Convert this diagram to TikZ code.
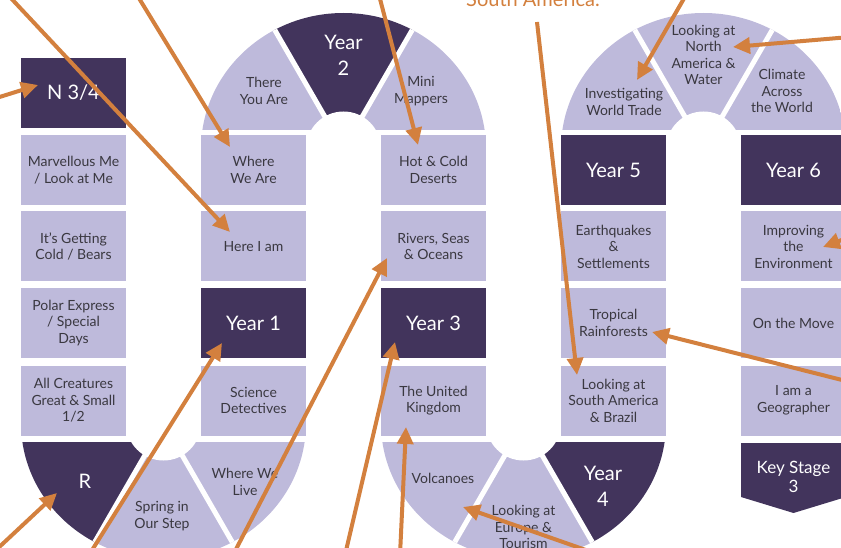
\documentclass[tikz,border=0pt]{standalone}
\usepackage{fontspec}
\setmainfont{Lato}
\usetikzlibrary{arrows.meta}
\definecolor{lilac}{RGB}{190,186,219}
\definecolor{plum}{RGB}{66,52,92}
\definecolor{rust}{RGB}{211,128,62}
\definecolor{ink}{RGB}{58,56,64}
\tikzset{
  tile/.style={fill=lilac, text=ink, minimum width=105pt, minimum height=70pt, inner sep=0pt, align=center, font=\fontsize{14}{16.5}\selectfont},
  yeartile/.style={tile, fill=plum, text=white, font=\fontsize{20}{26}\selectfont},
  seclbl/.style={text=ink, align=center, inner sep=0pt, font=\fontsize{14}{16.5}\selectfont},
  yearlbl/.style={seclbl, text=white, font=\fontsize{20}{26}\selectfont},
  arr/.style={draw=rust, line width=4pt, -{Triangle[length=17pt,width=16pt]}},
  gap/.style={draw=white, line width=5pt}
}

\begin{document}
\begin{tikzpicture}[x=1pt,y=1pt,yscale=-1,xscale=1]
\useasboundingbox (0,0) rectangle (841,548);
\clip (0,0) rectangle (841,548);

% hole centres of the four bends
\coordinate (topA) at (343.5,149);
\coordinate (topB) at (703.5,149);
\coordinate (botA) at (163.5,423);
\coordinate (botB) at (523.5,423);

%Bend Year 2
\begin{scope}
\clip (200,0) rectangle (487,129.5);
\clip (topA) ellipse [x radius=142.5, y radius=136];
\fill[lilac] (topA) -- +(-180:300) -- +(-120:300) -- cycle;
\fill[plum]  (topA) -- +(-120:300) -- +(-60:300) -- cycle;
\fill[lilac] (topA) -- +(-60:300) -- +(0:300) -- cycle;
\draw[gap] (topA) -- +(-120:300);
\draw[gap] (topA) -- +(-60:300);
\fill[white] (topA) circle [radius=37.5];
\end{scope}

%Bend Year 5 / Year 6
\begin{scope}
\clip (560,0) rectangle (847,129.5);
\clip (topB) ellipse [x radius=142.5, y radius=136];
\fill[lilac] (topB) -- +(-180:300) -- +(-90:300) -- +(0:300) -- cycle;
\draw[gap] (topB) -- +(-120:300);
\draw[gap] (topB) -- +(-60:300);
\fill[white] (topB) circle [radius=37.5];
\end{scope}

%Bend R
\begin{scope}
\clip (20,442) rectangle (307,560);
\clip (botA) ellipse [x radius=142.5, y radius=136];
\fill[plum]  (botA) -- +(180:300) -- +(120:300) -- cycle;
\fill[lilac] (botA) -- +(120:300) -- +(60:300) -- +(0:300) -- cycle;
\draw[gap] (botA) -- +(120:300);
\draw[gap] (botA) -- +(60:300);
\fill[white] (botA) circle [radius=37.5];
\end{scope}

%Bend Year 4
\begin{scope}
\clip (380,442) rectangle (667,560);
\clip (botB) ellipse [x radius=142.5, y radius=136];
\fill[lilac] (botB) -- +(180:300) -- +(120:300) -- +(60:300) -- cycle;
\fill[plum]  (botB) -- +(60:300) -- +(0:300) -- cycle;
\draw[gap] (botB) -- +(120:300);
\draw[gap] (botB) -- +(60:300);
\fill[white] (botB) circle [radius=37.5];
\end{scope}

% Text Node
\node[seclbl] (there) at (264,91) {There\\You Are};
\node[yearlbl] (yr2) at (343.5,55) {Year\\2};
\node[seclbl] (mini) at (421,91) {Mini\\Mappers};
\node[seclbl] (trade) at (624,102) {Investigating\\World Trade};
\node[seclbl] (northam) at (703.5,55) {Looking at\\North\\America \&\\Water};
\node[seclbl] (climate) at (782,91) {Climate\\Across\\the World};
\node[yearlbl] (rec) at (85,481) {R};
\node[seclbl] (spring) at (162,516) {Spring in\\Our Step};
\node[seclbl] (wherelive) at (245,482) {Where We\\Live};
\node[seclbl] (volc) at (443,478) {Volcanoes};
\node[seclbl] (europe) at (523.5,527) {Looking at\\Europe \&\\Tourism};
\node[yearlbl] (yr4) at (603,486) {Year\\4};

% Column N / R
\node[yeartile] (nur) at (73.5,93) {N 3/4};
\node[tile] (marvel) at (73.5,170) {Marvellous Me\\/ Look at Me};
\node[tile] (cold) at (73.5,246.5) {It's Getting\\Cold / Bears};
\node[tile] (polar) at (73.5,323) {Polar Express\\/ Special\\Days};
\node[tile] (creatures) at (73.5,400.5) {All Creatures\\Great \& Small\\1/2};

% Column Year 1
\node[tile] (whereare) at (253.5,170) {Where\\We Are};
\node[tile] (here) at (253.5,246.5) {Here I am};
\node[yeartile] (yr1) at (253.5,323) {Year 1};
\node[tile] (science) at (253.5,400.5) {Science\\Detectives};

% Column Year 3
\node[tile] (deserts) at (433.5,170) {Hot \& Cold\\Deserts};
\node[tile] (rivers) at (433.5,246.5) {Rivers, Seas\\\& Oceans};
\node[yeartile] (yr3) at (433.5,323) {Year 3};
\node[tile] (uk) at (433.5,400.5) {The United\\Kingdom};

% Column Year 5
\node[yeartile] (yr5) at (613.5,170) {Year 5};
\node[tile] (quakes) at (613.5,246.5) {Earthquakes\\\&\\Settlements};
\node[tile] (tropic) at (613.5,323) {Tropical\\Rainforests};
\node[tile] (southam) at (613.5,400.5) {Looking at\\South America\\\& Brazil};

% Column Year 6
\node[yeartile] (yr6) at (793.5,170) {Year 6};
\node[tile] (improve) at (793.5,246.5) {Improving\\the\\Environment};
\node[tile] (move) at (793.5,323) {On the Move};
\node[tile] (geog) at (793.5,400.5) {I am a\\Geographer};
\fill[plum] (741,443) -- (846,443) -- (846,497) -- (793.5,513) -- (741,497) -- cycle;
\node[yearlbl, font=\fontsize{17}{19.5}\selectfont] (ks3) at (793.5,477) {Key Stage\\3};

% Note
\node[text=rust, anchor=base west, inner sep=0pt, font=\fontsize{20}{20}\selectfont] (samtxt) at (466,7) {South America.};

% Arrows
\coordinate (s1) at (-10,100);  \coordinate (t1) at (38,85);
\coordinate (s2) at (8,-5);     \coordinate (t2) at (230,232);
\coordinate (s3) at (137,-5);   \coordinate (t3) at (230,147);
\coordinate (s4) at (379,-5);   \coordinate (t4) at (418,145);
\coordinate (s5) at (537,22);   \coordinate (t5) at (577,375);
\coordinate (s6) at (686,-5);   \coordinate (t6) at (637,80);
\coordinate (s7) at (850,37);   \coordinate (t7) at (733,47);
\coordinate (s8) at (855,235);  \coordinate (t8) at (823,247);
\coordinate (s9) at (850,382);  \coordinate (t9) at (652,332);
\coordinate (s10) at (-5,551);  \coordinate (t10) at (57,493);
\coordinate (s11) at (89,555);  \coordinate (t11) at (222,343);
\coordinate (s12) at (233,555); \coordinate (t12) at (387,258);
\coordinate (s13) at (345,555); \coordinate (t13) at (395,342);
\coordinate (s14) at (400,555); \coordinate (t14) at (406,427);
\coordinate (s15) at (600,555); \coordinate (t15) at (463,507);
\draw[arr] (s1) -- (t1);
\draw[arr] (s2) -- (t2);
\draw[arr] (s3) -- (t3);
\draw[arr] (s4) -- (t4);
\draw[arr] (s5) -- (t5);
\draw[arr] (s6) -- (t6);
\draw[arr] (s7) -- (t7);
\draw[arr] (s8) -- (t8);
\draw[arr] (s9) -- (t9);
\draw[arr] (s10) -- (t10);
\draw[arr] (s11) -- (t11);
\draw[arr] (s12) -- (t12);
\draw[arr] (s13) -- (t13);
\draw[arr] (s14) -- (t14);
\draw[arr] (s15) -- (t15);

\end{tikzpicture}
\end{document}
